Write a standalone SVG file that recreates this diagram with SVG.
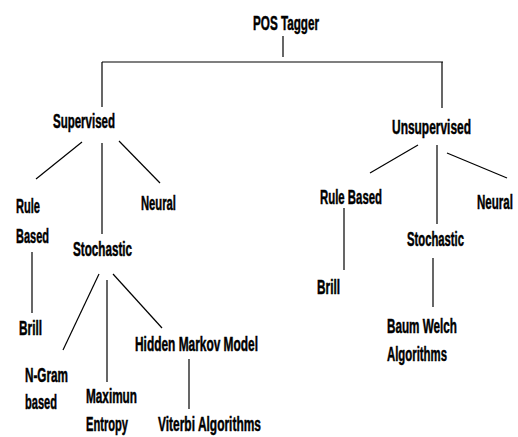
<svg xmlns="http://www.w3.org/2000/svg" width="518" height="437" viewBox="0 0 518 437">
<style>
text{font-family:"Liberation Sans Narrow","Liberation Sans",Arial,sans-serif;font-weight:bold;font-size:20px;fill:#000;stroke:#000;stroke-width:0.5}
.c line{stroke:#000;stroke-width:1.2}
</style>
<rect width="518" height="437" fill="#fff"/>
<g class="c" id="connectors">
<line x1="283" y1="36" x2="283" y2="57"/>
<line x1="102" y1="62" x2="443" y2="62"/>
<line x1="102" y1="62" x2="102" y2="107"/>
<line x1="442" y1="62" x2="442" y2="108"/>
<line x1="82" y1="142" x2="36" y2="179"/>
<line x1="102" y1="143" x2="102" y2="234"/>
<line x1="119" y1="141" x2="160" y2="183"/>
<line x1="418" y1="145" x2="370" y2="173"/>
<line x1="437" y1="145" x2="437" y2="224"/>
<line x1="447" y1="153" x2="507" y2="178"/>
<line x1="32" y1="252" x2="32" y2="313"/>
<line x1="99" y1="274" x2="63" y2="350"/>
<line x1="107" y1="280" x2="107" y2="382"/>
<line x1="113" y1="274" x2="162" y2="328"/>
<line x1="189" y1="359" x2="189" y2="409"/>
<line x1="344" y1="208" x2="344" y2="270"/>
<line x1="433" y1="258" x2="433" y2="307"/>
</g>
<g id="pos"><text x="253" y="30" textLength="66" lengthAdjust="spacingAndGlyphs">POS Tagger</text></g>
<g id="supervised"><text x="53" y="128" textLength="62" lengthAdjust="spacingAndGlyphs">Supervised</text></g>
<g id="unsupervised"><text x="392" y="134" textLength="79" lengthAdjust="spacingAndGlyphs">Unsupervised</text></g>
<g id="s-rule"><text x="16" y="213" textLength="24" lengthAdjust="spacingAndGlyphs">Rule</text><text x="16" y="243" textLength="33" lengthAdjust="spacingAndGlyphs">Based</text></g>
<g id="s-neural"><text x="141" y="210" textLength="35" lengthAdjust="spacingAndGlyphs">Neural</text></g>
<g id="s-stochastic"><text x="73" y="256" textLength="59" lengthAdjust="spacingAndGlyphs">Stochastic</text></g>
<g id="s-brill"><text x="19" y="335" textLength="23" lengthAdjust="spacingAndGlyphs">Brill</text></g>
<g id="ngram"><text x="25" y="382" textLength="43" lengthAdjust="spacingAndGlyphs">N-Gram</text><text x="25" y="409" textLength="32" lengthAdjust="spacingAndGlyphs">based</text></g>
<g id="maxent"><text x="86" y="403" textLength="51" lengthAdjust="spacingAndGlyphs">Maximun</text><text x="86" y="431" textLength="42" lengthAdjust="spacingAndGlyphs">Entropy</text></g>
<g id="hmm"><text x="135" y="351" textLength="123" lengthAdjust="spacingAndGlyphs">Hidden Markov Model</text></g>
<g id="viterbi"><text x="158" y="431" textLength="103" lengthAdjust="spacingAndGlyphs">Viterbi Algorithms</text></g>
<g id="u-rule"><text x="320" y="204" textLength="62" lengthAdjust="spacingAndGlyphs">Rule Based</text></g>
<g id="u-neural"><text x="477" y="209" textLength="36" lengthAdjust="spacingAndGlyphs">Neural</text></g>
<g id="u-stochastic"><text x="407" y="246" textLength="57" lengthAdjust="spacingAndGlyphs">Stochastic</text></g>
<g id="u-brill"><text x="317" y="294" textLength="23" lengthAdjust="spacingAndGlyphs">Brill</text></g>
<g id="baum"><text x="387" y="333" textLength="70" lengthAdjust="spacingAndGlyphs">Baum Welch</text><text x="387" y="361" textLength="60" lengthAdjust="spacingAndGlyphs">Algorithms</text></g>
</svg>
